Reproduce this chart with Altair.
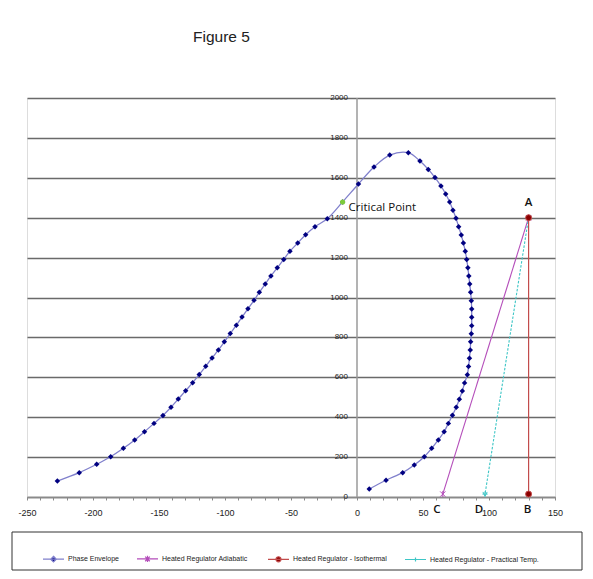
import altair as alt
import pandas as pd

# ---------------- data ----------------
env_x = [-227, -210.4, -197.2, -186.6, -177, -168.4, -161, -153.8, -147, -140.9,
         -135.4, -129.8, -124.5, -119.5, -114.6, -109.8, -105, -100.5, -96, -91.4,
         -87.1, -82.6, -78, -74, -69.5, -65.2, -60.4, -55.5, -50.8, -44.9,
         -38.9, -31.8, -22.5, -10.9, 1.1, 12.9, 24.8, 38.9,
         47.7, 54, 59.1, 63.6, 67.2, 70.2, 72.7, 75, 77, 79,
         80.6, 82, 83.1, 84, 84.7, 85.4, 86.1, 86.6, 86.9, 86.9,
         86.9, 86.6, 86.1, 85.8, 85.2, 84.5, 83.6, 81.5, 79.8, 77.5,
         75.2, 72.3, 69.2, 66, 61.6, 56.6, 51, 43.4, 34.6, 22, 9.3]
env_y = [80, 122, 164, 202, 244, 286, 327, 369, 409, 450,
         491, 533, 573, 614, 655, 697, 737, 778, 820, 861,
         902, 944, 986, 1026, 1068, 1108, 1149, 1191, 1232, 1273,
         1315, 1355, 1395, 1479, 1569, 1654, 1714, 1726,
         1684, 1642, 1601, 1559, 1519, 1479, 1437, 1397, 1355, 1313,
         1273, 1232, 1191, 1149, 1108, 1068, 1026, 984, 942, 901,
         859, 818, 778, 737, 696, 654, 613, 572, 531, 490,
         450, 410, 369, 327, 286, 244, 202, 160, 122, 84, 40]

crit_x = [-10.9]
crit_y = [1479]
crit_text = ["Critical Point"]

adia_x = [130, 65]
adia_y = [1400, 14.7]
iso_x = [130, 130]
iso_y = [1400, 14.7]
prac_x = [130, 97]
prac_y = [1400, 14.7]

top_letter = ["A"]
top_letter_x = [130]
top_letter_y = [1400]
b_letter = ["B"]
b_letter_x = [130]
b_letter_y = [14.7]
cd_letters = ["C", "D"]
cd_letters_x = [65, 97]
cd_letters_y = [14.7, 14.7]

y_ticks = [0, 200, 400, 600, 800, 1000, 1200, 1400, 1600, 1800, 2000]
x_ticks = list(range(-250, 151, 10))

series_names = ["Phase Envelope", "Heated  Regulator Adiabatic",
                "Heated Regulator - Isothermal", "Heated Regulator - Practical Temp."]

# ---------------- style ----------------
NARROW = "Liberation Sans Narrow, Liberation Sans, Arial, sans-serif"
ANNOT = "Open Sans, DejaVu Sans, sans-serif"
line_colors = ["#8080CC", "#B44DBA", "#C24C4C", "#3EC6C6"]
marker_colors = ["#000080", "#B44DBA", "#8B0000", "#3EC6C6"]
legend_paths = [
    "M-1,0L1,0M0,-0.27L0.27,0L0,0.27L-0.27,0Z",
    "M-1,0L1,0M-0.22,-0.22L0.22,0.22M-0.22,0.22L0.22,-0.22M0,-0.3L0,0.3",
    "M-1,0L1,0M0.24,0A0.24,0.24,0,1,1,-0.24,0A0.24,0.24,0,1,1,0.24,0Z",
    "M-1,0L1,0M-0.2,0L0.2,0M0,-0.2L0,0.2",
]

xscale = alt.Scale(domain=[-250, 150], nice=False, zero=False)
yscale = alt.Scale(domain=[0, 2000], nice=False, zero=False)
xaxis = alt.Axis(values=x_ticks,
                 labelExpr="datum.value % 50 == 0 ? toString(datum.value) : ''",
                 grid=False, domainColor="#8a8a8a", domainWidth=1.5,
                 tickColor="#8a8a8a", tickSize=3, labelFont=NARROW,
                 labelFontSize=9, labelColor="#222", labelPadding=8,
                 labelOverlap=False, labelFlush=False, title=None)
yaxis = alt.Axis(values=y_ticks, grid=True, gridColor="#6a6a6a", gridWidth=1.4,
                 labels=False, ticks=False, domain=False, title=None)

X = alt.X("x:Q", scale=xscale, axis=xaxis)
Y = alt.Y("y:Q", scale=yscale, axis=yaxis)

env_df = pd.DataFrame({"x": env_x, "y": env_y, "i": range(len(env_x))})
crit_df = pd.DataFrame({"x": crit_x, "y": crit_y, "t": crit_text})
adia_df = pd.DataFrame({"x": adia_x, "y": adia_y, "i": range(len(adia_x))})
iso_df = pd.DataFrame({"x": iso_x, "y": iso_y, "i": range(len(iso_x))})
prac_df = pd.DataFrame({"x": prac_x, "y": prac_y, "i": range(len(prac_x))})
ytick_df = pd.DataFrame({"x": [0] * len(y_ticks), "y": y_ticks})
top_df = pd.DataFrame({"x": top_letter_x, "y": top_letter_y, "t": top_letter})
b_df = pd.DataFrame({"x": b_letter_x, "y": b_letter_y, "t": b_letter})
cd_df = pd.DataFrame({"x": cd_letters_x, "y": cd_letters_y, "t": cd_letters})
leg_df = pd.DataFrame({"series": series_names, "x": [0] * 4, "y": [0] * 4})
one = alt.Data(values=[{"a": 1}])

# y axis line at x = 0
yaxis_rule = alt.Chart(one).mark_rule(color="#9a9a9a", strokeWidth=1.5).encode(
    x=alt.datum(0, scale=xscale, axis=xaxis), y=alt.datum(0, scale=yscale, axis=yaxis), y2=alt.datum(2000))

ylabels = alt.Chart(ytick_df).mark_text(align="right", baseline="middle", dx=-9,
                                         font=NARROW, fontSize=8, color="#222").encode(
    x=X, y=Y, text=alt.Text("y:Q", format="d"))

env_line = alt.Chart(env_df).mark_line(interpolate="catmull-rom", color=line_colors[0],
                                       strokeWidth=1.3).encode(x=X, y=Y, order="i:Q")
env_pts = alt.Chart(env_df).mark_point(shape="diamond", filled=True, size=30, opacity=1,
                                       color=marker_colors[0]).encode(x=X, y=Y)
crit_pt = alt.Chart(crit_df).mark_point(shape="circle", filled=True, size=26, opacity=1,
                                        color="#7CCB3A").encode(x=X, y=Y)
crit_lbl = alt.Chart(crit_df).mark_text(align="left", baseline="middle", dx=6, dy=6,
                                        font=ANNOT, fontSize=11.5, color="#111").encode(
    x=X, y=Y, text="t:N")

adia_line = alt.Chart(adia_df).mark_line(color=line_colors[1], strokeWidth=1.1).encode(
    x=X, y=Y, order="i:Q")
adia_pts = alt.Chart(adia_df).mark_point(shape="M-1,-1L1,1M-1,1L1,-1M0,-1.2L0,1.2", filled=False,
                                         size=28, strokeWidth=1, opacity=1,
                                         color=marker_colors[1]).encode(x=X, y=Y)
prac_line = alt.Chart(prac_df).mark_line(color=line_colors[3], strokeWidth=1.1,
                                         strokeDash=[2.5, 1.5]).encode(x=X, y=Y, order="i:Q")
prac_pts = alt.Chart(prac_df).mark_point(shape="M-1,0L1,0M0,-1L0,1M-0.8,-0.8L0,0.8L0.8,-0.8",
                                         filled=False, size=28, strokeWidth=1, opacity=1,
                                         color=marker_colors[3]).encode(x=X, y=Y)
iso_line = alt.Chart(iso_df).mark_line(color=line_colors[2], strokeWidth=1.2).encode(
    x=X, y=Y, order="i:Q")
iso_pts = alt.Chart(iso_df).mark_point(shape="circle", filled=True, size=36, opacity=1,
                                       fill=marker_colors[2], stroke=line_colors[2],
                                       strokeWidth=1).encode(x=X, y=Y)

top_lbl = alt.Chart(top_df).mark_text(align="center", baseline="alphabetic", dy=-12,
                                      font=ANNOT, fontSize=11.5, fontWeight=600,
                                      color="#111").encode(x=X, y=Y, text="t:N")
b_lbl = alt.Chart(b_df).mark_text(align="center", baseline="alphabetic", dy=19, dx=-1,
                                  font=ANNOT, fontSize=11.5, fontWeight=600,
                                  color="#111").encode(x=X, y=Y, text="t:N")
cd_lbl = alt.Chart(cd_df).mark_text(align="center", baseline="alphabetic", dy=19, dx=-6,
                                    font=ANNOT, fontSize=11.5, fontWeight=600,
                                    color="#111").encode(x=X, y=Y, text="t:N")

# legend box (decoration)
legend_box = alt.Chart(one).mark_rect(fill="white", fillOpacity=0, stroke="#333",
                                      strokeWidth=1).encode(
    x=alt.value(-15), x2=alt.value(555), y=alt.value(434), y2=alt.value(472))

leg = alt.Legend(orient="none", legendX=15, legendY=449, direction="horizontal", columns=4,
                 columnPadding=15, symbolSize=441, symbolStrokeWidth=1.2, symbolOpacity=1,
                 labelFont=NARROW, labelFontSize=7, labelColor="#222", labelOffset=3,
                 labelLimit=300, title=None, padding=0)
legend_layer = alt.Chart(leg_df).transform_filter("false").mark_point(
    filled=True, opacity=1, strokeWidth=1.2).encode(
    x=X, y=Y,
    shape=alt.Shape("series:N", scale=alt.Scale(domain=series_names, range=legend_paths), legend=leg),
    fill=alt.Fill("series:N", scale=alt.Scale(domain=series_names, range=marker_colors), legend=leg),
    stroke=alt.Stroke("series:N", scale=alt.Scale(domain=series_names, range=line_colors), legend=leg),
)

chart = alt.layer(
    yaxis_rule, ylabels, env_line, env_pts, crit_pt, crit_lbl,
    adia_line, adia_pts, prac_line, prac_pts, iso_line, iso_pts,
    top_lbl, b_lbl, cd_lbl, legend_box, legend_layer
).properties(
    width=528, height=399,
    padding={"left": 19, "top": 90, "right": 30, "bottom": 74},
    autosize=alt.AutoSizeParams(type="none"),
    title=alt.Title("Figure 5", anchor="start", frame="group", dx=166, offset=49,
                    fontSize=15.5, font=NARROW, fontWeight="normal", color="#222"),
).configure_view(strokeWidth=0).configure(background="white")

chart.save("out.html", embed_options={"renderer": "svg", "actions": False})
